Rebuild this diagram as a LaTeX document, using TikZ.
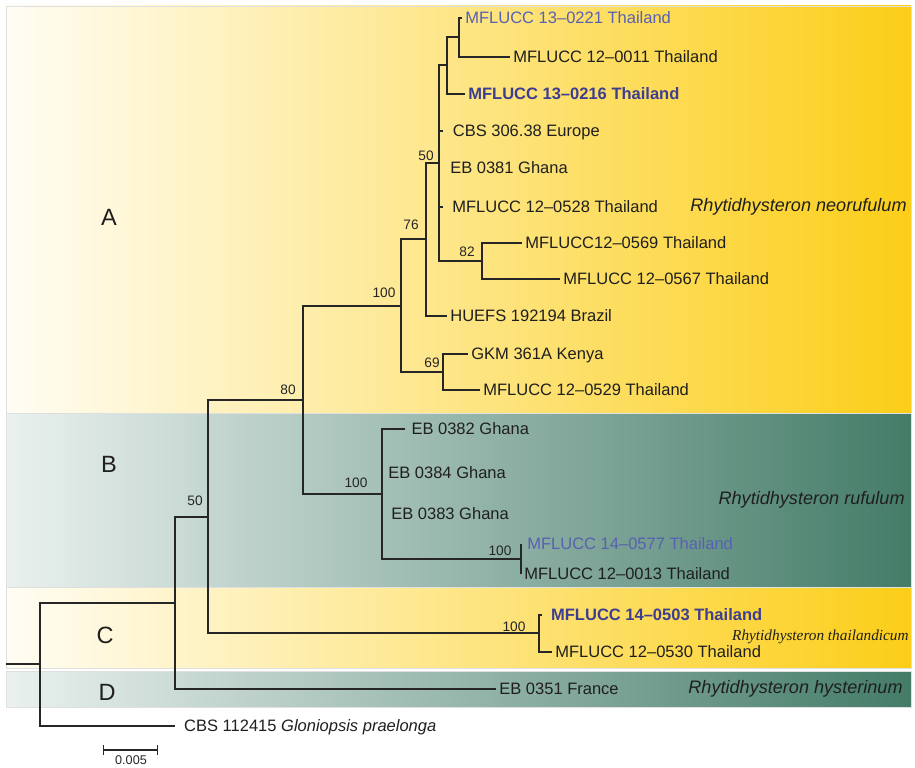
\documentclass[tikz,border=0pt]{standalone}
\usepackage{fontspec}
\setmainfont{Liberation Sans}
\newfontfamily\serifit{Liberation Serif}
\usetikzlibrary{arrows.meta}

\definecolor{goldL}{RGB}{255,253,244}
\definecolor{goldR}{RGB}{252,206,24}
\definecolor{tealL}{RGB}{234,241,239}
\definecolor{tealR}{RGB}{68,124,104}
\definecolor{isoblue}{RGB}{88,96,178}
\definecolor{isobold}{RGB}{62,62,142}

\tikzset{
  band/.style={draw=gray!25, line width=0.4pt},
  yband/.style={band, left color=goldL, right color=goldR},
  tband/.style={band, left color=tealL, right color=tealR},
  branch/.style={line width=0.9pt, black!85},
  tax/.style={anchor=west, font=\fontsize{9.4}{11}\selectfont, inner xsep=1.7pt,
    inner ysep=0pt, text height=6.7pt, text depth=0pt, text=black!88},
  gap/.style={inner xsep=#1},
  boot/.style={font=\fontsize{7.8}{9}\selectfont, inner sep=0pt, text=black!85},
  clade/.style={font=\fontsize{13.4}{15}\selectfont, text=black!88},
  species/.style={anchor=east, font=\fontsize{10.3}{12}\selectfont\itshape,
    inner sep=0pt, text=black!88},
}

\begin{document}
\begin{tikzpicture}[x=0.02cm, y=-0.02cm]
    \useasboundingbox (0,0) rectangle (915,767);

    % Clade bands
    \shade[yband] (6,6) rectangle (911,413);
    \shade[tband] (6,413) rectangle (911,587);
    \shade[yband] (6,587) rectangle (911,668);
    \shade[tband] (6,671) rectangle (911,707);

    \node[clade] (cA) at (109,217) {A};
    \node[clade] (cB) at (109,464) {B};
    \node[clade] (cC) at (105,635) {C};
    \node[clade] (cD) at (107,692) {D};

    % Inner nodes
    \coordinate (base) at (6,664);
    \coordinate (nRoot) at (40,664);
    \coordinate (nIn) at (175,603);
    \coordinate (n50b) at (208,517);
    \coordinate (n80) at (303,400);
    \coordinate (nA) at (401,306);
    \coordinate (n76) at (426,239);
    \coordinate (n50a) at (439,163);
    \coordinate (n2) at (447,65);
    \coordinate (n1) at (459,37);
    \coordinate (n82) at (482,261);
    \coordinate (n69) at (443,372);
    \coordinate (nB) at (382,494);
    \coordinate (n0577) at (521,559);
    \coordinate (nC) at (539,633);

    % Isolates
    \node[tax, text=isoblue] (l0221) at (462,18) {MFLUCC 13--0221 Thailand};
    \node[tax] (l0011) at (510,57) {MFLUCC 12--0011 Thailand};
    \node[tax, text=isobold] (l0216) at (465,94) {\bfseries MFLUCC 13--0216 Thailand};
    \node[tax, gap=5.4pt] (l30638) at (443,131) {CBS 306.38 Europe};
    \node[tax, gap=6.2pt] (l0381) at (439,168) {EB 0381 Ghana};
    \node[tax, gap=5.1pt] (l0528) at (443,207) {MFLUCC 12--0528 Thailand};
    \node[tax] (l0569) at (522,243) {MFLUCC12--0569 Thailand};
    \node[tax] (l0567) at (560,279) {MFLUCC 12--0567 Thailand};
    \node[tax] (lHUEFS) at (447,316) {HUEFS 192194 Brazil};
    \node[tax] (lGKM) at (468,354) {GKM 361A Kenya};
    \node[tax] (l0529) at (480,390) {MFLUCC 12--0529 Thailand};
    \node[tax, gap=3.5pt] (l0382) at (405,429) {EB 0382 Ghana};
    \node[tax, gap=3.4pt] (l0384) at (382,473) {EB 0384 Ghana};
    \node[tax, gap=5.1pt] (l0383) at (382,514) {EB 0383 Ghana};
    \node[tax, gap=3.4pt, text=isoblue] (l0577) at (521,544) {MFLUCC 14--0577 Thailand};
    \node[tax] (l0013) at (521,574) {MFLUCC 12--0013 Thailand};
    \node[tax, gap=5pt, text=isobold] (l0503) at (542,615) {\bfseries MFLUCC 14--0503 Thailand};
    \node[tax] (l0530) at (552,652) {MFLUCC 12--0530 Thailand};
    \node[tax] (l0351) at (496,689) {EB 0351 France};
    \node[tax, gap=5pt] (lCBS) at (175,726) {CBS 112415 \textit{Gloniopsis praelonga}};

    % Branches
    \draw[branch] (base) -- (nRoot);
    \foreach \p/\c in {nRoot/nIn, nRoot/lCBS.west, nIn/n50b, nIn/l0351.west,
        n50b/n80, n50b/nC, n80/nA, n80/nB, nA/n76, nA/n69,
        n76/n50a, n76/lHUEFS.west, n50a/n2, n50a/l30638.west, n50a/l0381.west,
        n50a/l0528.west, n50a/n82, n2/n1, n2/l0216.west, n1/l0221.west,
        n1/l0011.west, n82/l0569.west, n82/l0567.west, n69/lGKM.west,
        n69/l0529.west, nB/l0382.west, nB/l0384.west, nB/l0383.west, nB/n0577,
        n0577/l0577.west, n0577/l0013.west, nC/l0503.west, nC/l0530.west} {
        \draw[branch] (\p) |- (\c);
    }

    % Bootstrap support
    \node[boot] (bs50a) at (426,156) {50};
    \node[boot] (bs76) at (411,225) {76};
    \node[boot] (bs82) at (467,252) {82};
    \node[boot] (bsA) at (384,293) {100};
    \node[boot] (bs69) at (432,363) {69};
    \node[boot] (bs80) at (288,390) {80};
    \node[boot] (bsB) at (356,483) {100};
    \node[boot] (bs0577) at (500,551) {100};
    \node[boot] (bs50b) at (195,501) {50};
    \node[boot] (bsC) at (514,627) {100};

    % Species
    \node[species] (sNeo) at (907,207) {Rhytidhysteron neorufulum};
    \node[species] (sRuf) at (905,500) {Rhytidhysteron rufulum};
    \node[species, font=\fontsize{8.7}{10}\selectfont\serifit\itshape] (sThai) at (909,637) {Rhytidhysteron thailandicum};
    \node[species] (sHys) at (903,689) {Rhytidhysteron hysterinum};

    % Scale bar
    \coordinate (sbL) at (103,750);
    \coordinate (sbR) at (158,750);
    \draw[line width=0.7pt, black!85, {Bar[width=5.7pt]}-{Bar[width=5.7pt]}] (sbL) -- (sbR);
    \node[boot, anchor=north, font=\fontsize{7.2}{8}\selectfont] (sbTxt) at (131,755) {0.005};
\end{tikzpicture}
\end{document}
